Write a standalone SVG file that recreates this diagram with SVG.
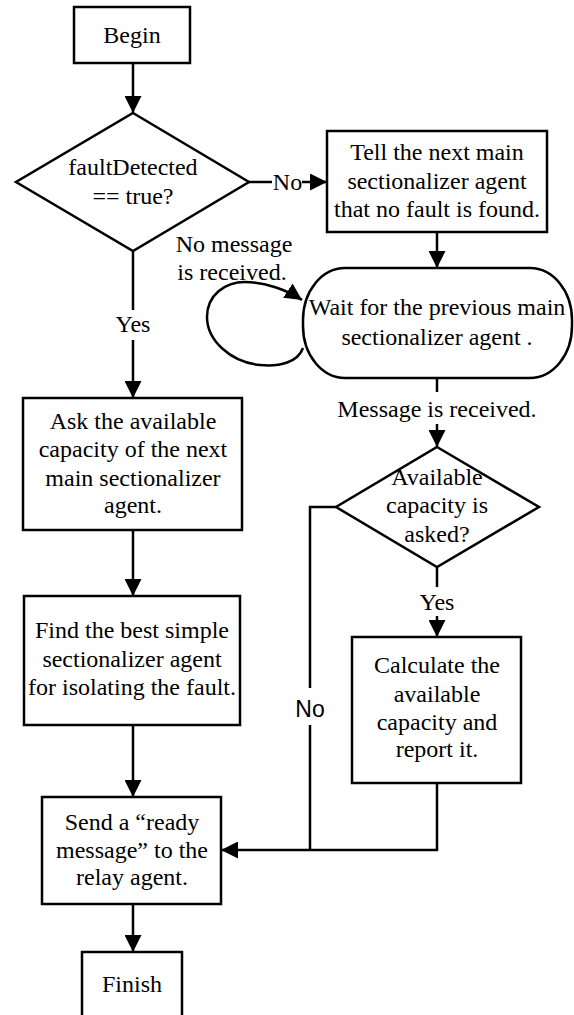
<svg xmlns="http://www.w3.org/2000/svg" width="574" height="1015" viewBox="0 0 574 1015">
<style>
.box{fill:#fff;stroke:#000;stroke-width:2.5}
.t{font-family:"Liberation Serif","Times New Roman",serif;font-size:24px;text-anchor:middle;fill:#000}
.s{font-family:"Liberation Sans",Arial,sans-serif;font-size:23px;text-anchor:middle;fill:#000}
.c{fill:none;stroke:#000;stroke-width:2.5}
</style>
<defs>
<marker id="ah" markerUnits="userSpaceOnUse" markerWidth="17" markerHeight="17" refX="17" refY="8.5" orient="auto" viewBox="0 0 17 17">
<path d="M0,0 L17,8.5 L0,17 Z" fill="#000"/>
</marker>
</defs>
<rect width="574" height="1015" fill="#fff"/>
<g id="connectors">
<line class="c" x1="133" y1="63" x2="133" y2="113" marker-end="url(#ah)"/>
<line class="c" x1="249" y1="182" x2="272" y2="182"/>
<line class="c" x1="302" y1="182" x2="327" y2="182" marker-end="url(#ah)"/>
<line class="c" x1="437" y1="232" x2="437" y2="268" marker-end="url(#ah)"/>
<path class="c" d="M303,348 C298,362 280,367 260,365 C230,362 207,340 207,317 C207,295 225,282 245,282 C265,282 287,290 302,300" marker-end="url(#ah)"/>
<line class="c" x1="437" y1="378" x2="437" y2="392"/>
<line class="c" x1="437" y1="424" x2="437" y2="447" marker-end="url(#ah)"/>
<line class="c" x1="437" y1="567" x2="437" y2="587"/>
<line class="c" x1="437" y1="616" x2="437" y2="637" marker-end="url(#ah)"/>
<polyline class="c" points="336,507 310,507 310,688"/>
<polyline class="c" points="310,725 310,850"/>
<polyline class="c" points="437,783 437,850 221,850" marker-end="url(#ah)"/>
<line class="c" x1="133" y1="251" x2="133" y2="310"/>
<line class="c" x1="133" y1="340" x2="133" y2="398" marker-end="url(#ah)"/>
<line class="c" x1="133" y1="530" x2="133" y2="596" marker-end="url(#ah)"/>
<line class="c" x1="133" y1="725" x2="133" y2="797" marker-end="url(#ah)"/>
<line class="c" x1="133" y1="904" x2="133" y2="952" marker-end="url(#ah)"/>
<text class="t" x="287.5" y="190">No</text>
<text class="t" x="133" y="332">Yes</text>
<text class="t" x="234" y="252">No message</text>
<text class="t" x="232" y="280">is received.</text>
<text class="t" x="437" y="417">Message is received.</text>
<text class="t" x="437" y="610">Yes</text>
<text class="s" x="310" y="717">No</text>
</g>
<g id="begin">
<rect class="box" x="74" y="7" width="116" height="56"/>
<text class="t" x="132" y="43">Begin</text>
</g>
<g id="faultDetected">
<polygon class="box" points="133,113 249,182 133,251 16,182"/>
<text class="t" x="133" y="175">faultDetected</text>
<text class="t" x="133" y="204">== true?</text>
</g>
<g id="tell">
<rect class="box" x="327" y="131" width="220" height="101"/>
<text class="t" x="437" y="160">Tell the next main</text>
<text class="t" x="437" y="189">sectionalizer agent</text>
<text class="t" x="437" y="217">that no fault is found.</text>
</g>
<g id="wait">
<rect class="box" x="303" y="268" width="269" height="110" rx="42" ry="52"/>
<text class="t" x="437" y="315">Wait for the previous main</text>
<text class="t" x="437" y="345">sectionalizer agent .</text>
</g>
<g id="asked">
<polygon class="box" points="437,447 539,507 437,567 336,507"/>
<text class="t" x="437" y="485">Available</text>
<text class="t" x="437" y="513">capacity is</text>
<text class="t" x="437" y="542">asked?</text>
</g>
<g id="calculate">
<rect class="box" x="352" y="637" width="169" height="146"/>
<text class="t" x="437" y="673">Calculate the</text>
<text class="t" x="437" y="702">available</text>
<text class="t" x="437" y="730">capacity and</text>
<text class="t" x="437" y="757">report it.</text>
</g>
<g id="ask">
<rect class="box" x="23" y="398" width="219" height="132"/>
<text class="t" x="133" y="429">Ask the available</text>
<text class="t" x="133" y="457">capacity of the next</text>
<text class="t" x="133" y="486">main sectionalizer</text>
<text class="t" x="133" y="513">agent.</text>
</g>
<g id="find">
<rect class="box" x="24" y="596" width="216" height="129"/>
<text class="t" x="132" y="638">Find the best simple</text>
<text class="t" x="132" y="667">sectionalizer agent</text>
<text class="t" x="132" y="695">for isolating the fault.</text>
</g>
<g id="send">
<rect class="box" x="42" y="797" width="179" height="107"/>
<text class="t" x="132" y="830">Send a “ready</text>
<text class="t" x="132" y="858">message” to the</text>
<text class="t" x="132" y="885">relay agent.</text>
</g>
<g id="finish">
<rect class="box" x="82" y="952" width="100" height="80"/>
<text class="t" x="132" y="992">Finish</text>
</g>
</svg>
